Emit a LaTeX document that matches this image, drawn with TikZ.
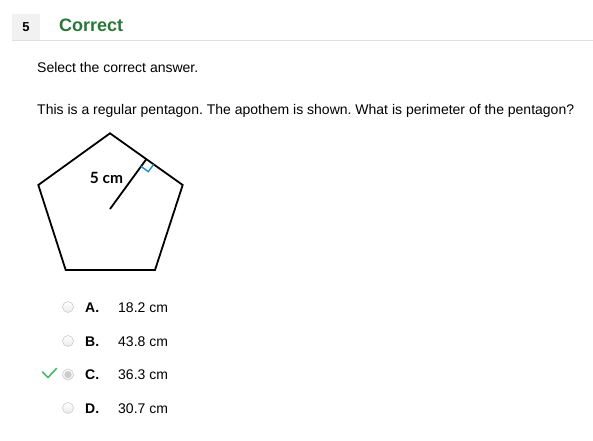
\documentclass[tikz,border=0pt]{standalone}
\usepackage{fontspec}
\setmainfont{Liberation Sans}
\newfontfamily\figfont{Lato}
\usetikzlibrary{calc}
\frenchspacing
\definecolor{okgreen}{RGB}{40,120,55}
\definecolor{tickgreen}{RGB}{70,185,110}
\definecolor{markblue}{RGB}{30,140,200}
\definecolor{boxgray}{RGB}{241,241,241}
\definecolor{rulegray}{RGB}{222,222,222}
\definecolor{radiogray}{RGB}{205,205,205}

\tikzset{
    txt/.style={anchor=base west, inner sep=0pt, font=\fontsize{14}{16}\selectfont},
    optletter/.style={anchor=base west, inner sep=0pt, font=\fontsize{14}{16}\selectfont\bfseries},
    radio/.style={circle, draw=radiogray, line width=0.6pt, minimum size=11pt, inner sep=0pt, top color=white, bottom color=black!8}
}

\begin{document}
\begin{tikzpicture}[x=1pt, y=-1pt]
    \useasboundingbox[fill=white] (0,0) rectangle (593,440);

    % header
    \fill[boxgray] (12,14) rectangle (40,40);
    \node[anchor=base, inner sep=0pt, font=\fontsize{13}{15}\selectfont\bfseries] (num) at (26,31) {5};
    \node[anchor=base west, inner sep=0pt, font=\fontsize{18}{20}\selectfont\bfseries, text=okgreen] (status) at (59,31.5) {Correct};
    \draw[rulegray, line width=0.8pt] (12,40.5) -- (593,40.5);

    % question
    \node[txt] (instr) at (37,72) {Select the correct answer.};
    \node[txt] (question) at (37,114) {This is a regular pentagon. The apothem is shown. What is perimeter of the pentagon?};

    % pentagon
    \coordinate (top) at (110,133.3);
    \coordinate (rv) at (182.7,185);
    \coordinate (br) at (155,270);
    \coordinate (bl) at (65.7,270);
    \coordinate (lv) at (38.3,185);
    \coordinate (ctr) at (110,209);
    \coordinate (mid) at ($(top)!0.5!(rv)$);
    \coordinate (m1) at ($(mid)!9pt!(rv)$);
    \coordinate (m2) at ($(mid)!9pt!(ctr)$);
    \coordinate (m3) at ($(m1)+(m2)-(mid)$);
    \draw[line width=1.8pt, line join=miter] (top) -- (rv) -- (br) -- (bl) -- (lv) -- cycle;
    \draw[line width=1.8pt] (ctr) -- (mid);
    \draw[markblue, line width=1.4pt] (m1) -- (m3) -- (m2);
    \node[font=\figfont\fontsize{15.5}{17}\selectfont\bfseries, inner sep=0pt] (apo) at (106.5,178) {5 cm};

    % options
    \node[radio] (ra) at (68,307) {};
    \node[radio] (rb) at (68,341) {};
    \node[radio] (rc) at (68,374.5) {};
    \node[radio] (rd) at (68,408) {};
    \fill[radiogray] (rc) circle (3.6pt);

    \node[optletter] (la) at (85,312) {A.};
    \node[optletter] (lb) at (85,346) {B.};
    \node[optletter] (lc) at (85,379.5) {C.};
    \node[optletter] (ld) at (85,413) {D.};

    \node[txt] (va) at (118,312) {18.2 cm};
    \node[txt] (vb) at (118,346) {43.8 cm};
    \node[txt] (vc) at (118,379.5) {36.3 cm};
    \node[txt] (vd) at (118,413) {30.7 cm};

    % tick for the chosen answer
    \draw[tickgreen, line width=1.6pt, line cap=round, line join=round] (42.5,372) -- (48,377.5) -- (56.5,368.5);
\end{tikzpicture}
\end{document}
